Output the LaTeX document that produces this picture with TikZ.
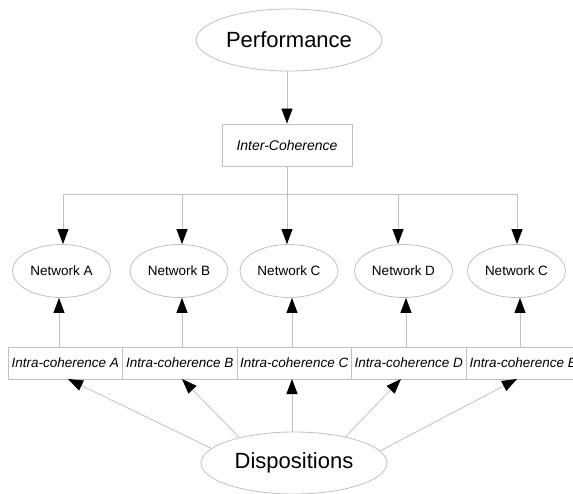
\documentclass[tikz,border=0pt]{standalone}
\usepackage{fontspec}
\setmainfont{Liberation Sans}
\usetikzlibrary{arrows.meta,shapes.geometric}
\definecolor{lc}{RGB}{192,192,192}
\tikzset{
  line/.style={draw=lc, line width=0.8pt},
  arr/.style={line, -{Triangle[length=15pt,width=11pt,color=black]}},
  bigell/.style={ellipse, draw=lc, line width=0.8pt, inner sep=0pt, minimum width=186pt, minimum height=62pt, font=\fontsize{22}{26}\selectfont},
  netell/.style={ellipse, draw=lc, line width=0.8pt, inner sep=0pt, minimum width=98pt, minimum height=53pt, font=\fontsize{13.5}{16}\selectfont},
  interbox/.style={rectangle, draw=lc, line width=0.8pt, inner sep=0pt, minimum width=130pt, minimum height=42pt, font=\fontsize{14}{17}\selectfont\itshape},
  intrabox/.style={rectangle, draw=lc, line width=0.8pt, inner sep=1pt, minimum width=114.5pt, minimum height=32pt, font=\fontsize{13.5}{16}\selectfont\itshape}
}
\begin{document}
\begin{tikzpicture}[x=1pt,y=-1pt]
\useasboundingbox (0,0) rectangle (573,494);
\clip (0,0) rectangle (573,494);
\node[bigell] (perf) at (289,40) {Performance};
\node[interbox] (inter) at (287,145) {Inter-Coherence};
\node[netell] (netA) at (61.5,271) {Network A};
\node[netell] (netB) at (179,271) {Network B};
\node[netell] (netC) at (289,271) {Network C};
\node[netell] (netD) at (403.5,271) {Network D};
\node[netell] (netE) at (516.5,271) {Network C};
\node[intrabox] (intA) at (65.25,363) {Intra-coherence A};
\node[intrabox] (intB) at (179.75,363) {Intra-coherence B};
\node[intrabox] (intC) at (294.25,363) {Intra-coherence C};
\node[intrabox] (intD) at (408.75,363) {Intra-coherence D};
\node[intrabox] (intE) at (523.25,363) {Intra-coherence E};
\node[bigell] (disp) at (294,463) {Dispositions};
% top
\draw[arr] (perf.south -| inter.north) -- (inter.north);
\coordinate (busL) at (63,194);
\coordinate (busR) at (517,194);
\coordinate (dB) at (182,194);
\coordinate (dC) at (287,194);
\coordinate (dD) at (398,194);
\draw[line] (inter.south) -- (inter.south |- busL);
\draw[line] (busL) -- (busR);
\draw[arr] (busL) -- (busL |- netA.north);
\draw[arr] (dB) -- (dB |- netB.north);
\draw[arr] (dC) -- (dC |- netC.north);
\draw[arr] (dD) -- (dD |- netD.north);
\draw[arr] (busR) -- (busR |- netE.north);
% up arrows
\coordinate (uA) at (59,0);
\coordinate (uB) at (182,0);
\coordinate (uC) at (292,0);
\coordinate (uD) at (406,0);
\coordinate (uE) at (520,0);
\draw[arr] (uA |- intA.north) -- (uA |- netA.south);
\draw[arr] (uB |- intB.north) -- (uB |- netB.south);
\draw[arr] (uC |- intC.north) -- (uC |- netC.south);
\draw[arr] (uD |- intD.north) -- (uD |- netD.south);
\draw[arr] (uE |- intE.north) -- (uE |- netE.south);
% from dispositions
\coordinate (tA) at (68,379);
\coordinate (tB) at (182,379);
\coordinate (tC) at (292,379);
\coordinate (tD) at (401,379);
\coordinate (tE) at (517,379);
\draw[arr] (disp.170) -- (tA);
\draw[arr] (disp.155) -- (tB);
\draw[arr] (disp.north -| tC) -- (tC);
\draw[arr] (disp.27) -- (tD);
\draw[arr] (disp.8) -- (tE);
\end{tikzpicture}
\end{document}
